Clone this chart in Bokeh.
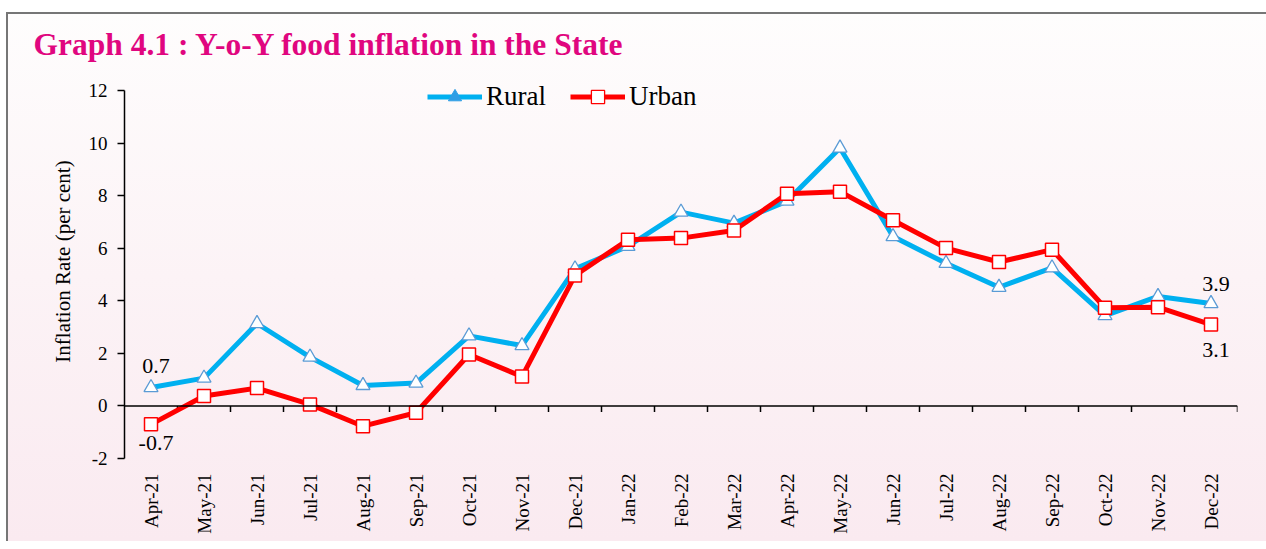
from math import pi
from bokeh.plotting import figure
from bokeh.models import (Range1d, FixedTicker, Span, Legend, LegendItem,
                          ColumnDataSource)
from bokeh.embed import file_html
from bokeh.resources import INLINE

# ---- data ----
months = ["Apr-21", "May-21", "Jun-21", "Jul-21", "Aug-21", "Sep-21", "Oct-21",
          "Nov-21", "Dec-21", "Jan-22", "Feb-22", "Mar-22", "Apr-22", "May-22",
          "Jun-22", "Jul-22", "Aug-22", "Sep-22", "Oct-22", "Nov-22", "Dec-22"]
rural = [0.7, 1.06, 3.14, 1.86, 0.78, 0.87, 2.67, 2.3, 5.22, 6.08, 7.38, 6.96,
         7.8, 9.82, 6.45, 5.43, 4.52, 5.26, 3.44, 4.17, 3.9]
urban = [-0.7, 0.38, 0.68, 0.06, -0.77, -0.26, 1.96, 1.12, 4.97, 6.33, 6.39, 6.68,
         8.08, 8.16, 7.07, 6.01, 5.48, 5.95, 3.74, 3.76, 3.1]
y_ticks = [-2, 0, 2, 4, 6, 8, 10, 12]
series_names = ["Rural", "Urban"]
title_text = "Graph 4.1 : Y-o-Y food inflation in the State"
y_title = "Inflation Rate (per cent)"

FONT = "Liberation Serif"
RURAL_LINE = "#00b0f0"
RURAL_MARK = "#5b9bd5"
URBAN = "#ff0000"

x = list(range(len(months)))
boundaries = [i + 0.5 for i in x]

p = figure(width=1260, height=529, output_backend="svg", toolbar_location=None,
           x_range=Range1d(-0.5, len(months) - 0.5),
           y_range=Range1d(min(y_ticks), max(y_ticks) + 1),
           min_border_left=118, min_border_right=29,
           min_border_top=52, min_border_bottom=83,
           background_fill_color=None, border_fill_color=None,
           outline_line_color=None)
p.styles = {
    "margin-top": "12px",
    "margin-left": "6px",
    "background": "linear-gradient(to bottom, #fefdfd 0%, #fcf3f6 50%, #faeaf0 100%)",
    "box-shadow": "inset 2px 2px 0 0 #767676",
}
p.grid.visible = False

# title
p.title.text = title_text
p.title.align = "left"
p.title.offset = -91
p.title.text_font = FONT
p.title.text_font_style = "bold"
p.title.text_font_size = "31.5px"
p.title.text_color = "#e0067f"
p.title.standoff = 5

# y axis
ya = p.yaxis[0]
ya.ticker = FixedTicker(ticks=y_ticks)
ya.major_label_overrides = {t: str(t) for t in y_ticks}
ya.bounds = (min(y_ticks), max(y_ticks))
ya.axis_line_color = "black"
ya.axis_line_width = 1.5
ya.major_tick_line_color = "black"
ya.major_tick_line_width = 1.5
ya.major_tick_out = 7
ya.major_tick_in = 0
ya.minor_tick_line_color = None
ya.major_label_text_font = FONT
ya.major_label_text_font_size = "19px"
ya.major_label_text_color = "black"
ya.major_label_standoff = 10
ya.axis_label = y_title
ya.axis_label_text_font = FONT
ya.axis_label_text_font_style = "normal"
ya.axis_label_text_font_size = "21px"
ya.axis_label_text_color = "black"
ya.axis_label_standoff = 11

# x axis (labels only, at the bottom)
xa = p.xaxis[0]
xa.ticker = FixedTicker(ticks=x)
xa.major_label_overrides = {i: m for i, m in zip(x, months)}
xa.major_label_orientation = pi / 2
xa.axis_line_color = None
xa.major_tick_line_color = None
xa.minor_tick_line_color = None
xa.major_tick_out = 0
xa.major_tick_in = 0
xa.major_label_standoff = 15
xa.major_label_text_font = FONT
xa.major_label_text_font_size = "19px"
xa.major_label_text_color = "black"

# zero line with category-boundary ticks
p.add_layout(Span(location=0, dimension="width", line_color="black", line_width=1.5))
p.ray(x=boundaries, y=[0] * len(boundaries), length=6, length_units="screen",
      angle=-pi / 2, line_color="black", line_width=1.5)

# series
r_line = p.line(x, rural, line_color=RURAL_LINE, line_width=5, line_join="round")
p.scatter(x, rural, marker="triangle", size=14, fill_color="white",
          line_color=RURAL_MARK, line_width=1.3)
u_line = p.line(x, urban, line_color=URBAN, line_width=5, line_join="round")
p.scatter(x, urban, marker="square", size=13, fill_color="white",
          line_color=URBAN, line_width=1.5)

# legend-only glyphs (hidden renderers, shown only as legend symbols)
leg_r = p.scatter(x[:1], rural[:1], marker="triangle", size=16, fill_color="#2f9ee5",
                  line_color="#2f9ee5", visible=False)
leg_u = p.scatter(x[:1], urban[:1], marker="square", size=13, fill_color="white",
                  line_color=URBAN, line_width=1.3, visible=False)

legend = Legend(items=[LegendItem(label=series_names[0], renderers=[r_line, leg_r]),
                       LegendItem(label=series_names[1], renderers=[u_line, leg_u])],
                location=(303, 345), orientation="horizontal",
                glyph_width=55, glyph_height=33, label_standoff=4, spacing=24,
                padding=0, margin=0, background_fill_alpha=0,
                border_line_color=None, label_text_font=FONT,
                label_text_font_size="27px", label_text_color="black",
                click_policy="none")
p.add_layout(legend)

# end-point data labels
lab_src = ColumnDataSource(dict(
    x=[x[0], x[-1], x[0], x[-1]],
    y=[rural[0], rural[-1], urban[0], urban[-1]],
    text=[f"{v:.1f}" for v in [rural[0], rural[-1], urban[0], urban[-1]]],
    yo=[-22, -20, 19, 25],
))
p.text(x="x", y="y", text="text", source=lab_src, x_offset=5, y_offset="yo",
       text_align="center", text_baseline="middle", text_font={"value": FONT},
       text_font_size="22px", text_color="black")

open("out.html", "w").write(file_html(p, INLINE))
